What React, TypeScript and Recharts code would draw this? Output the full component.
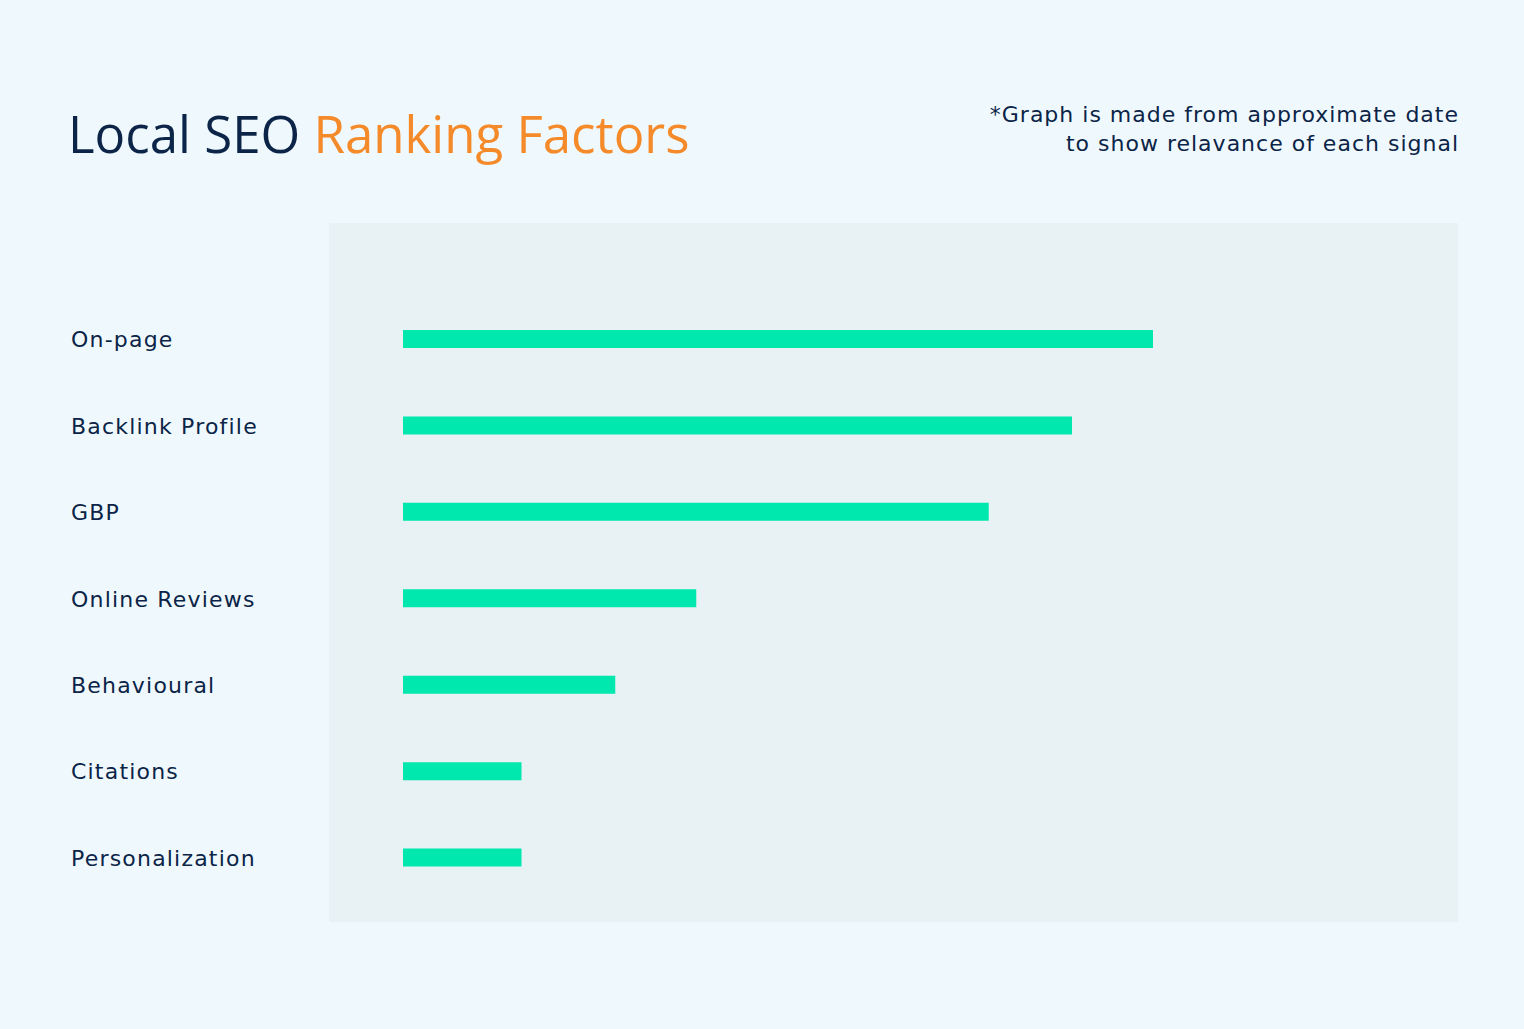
import React from "react";
import { BarChart, Bar, XAxis, YAxis } from "recharts";

// factors, top to bottom
const factors = [
  "On-page",
  "Backlink Profile",
  "GBP",
  "Online Reviews",
  "Behavioural",
  "Citations",
  "Personalization",
];

// relative weight of each signal (approximate, as in the source graphic)
const relevance = [100, 89.2, 78.1, 39.1, 28.3, 15.8, 15.8];

const data = factors.map((name, i) => ({ name, value: relevance[i] }));

const NAVY = "#0b2447";
const ORANGE = "#f58a2a";
const FONT = "'Open Sans', sans-serif";
const LABEL_FONT = "'DejaVu Sans', sans-serif";

const FactorTick = (props: any) => {
  const { y, payload } = props;
  return (
    <text
      x={71}
      y={y}
      dy={8}
      textAnchor="start"
      fill={NAVY}
      fontSize={22}
      fontFamily={LABEL_FONT}
      letterSpacing={1.2}
    >
      {payload.value}
    </text>
  );
};

export default function App() {
  return (
    <div
      style={{
        position: "absolute",
        left: 0,
        top: 0,
        width: 1524,
        height: 1029,
        background: "#eff9fd",
        fontFamily: FONT,
        overflow: "hidden",
      }}
    >
      <div
        style={{
          position: "absolute",
          left: 68,
          top: 98,
          fontSize: 51,
          color: NAVY,
          whiteSpace: "nowrap",
          lineHeight: "70px",
        }}
      >
        Local SEO <span style={{ color: ORANGE }}>Ranking Factors</span>
      </div>
      <div
        style={{
          position: "absolute",
          right: 65,
          top: 100,
          fontSize: 22,
          lineHeight: "29px",
          color: NAVY,
          textAlign: "right",
          whiteSpace: "nowrap",
          fontFamily: LABEL_FONT,
          letterSpacing: 1,
        }}
      >
        *Graph is made from approximate date
        <br />
        to show relavance of each signal
      </div>
      <div
        style={{
          position: "absolute",
          left: 329,
          top: 223,
          width: 1129,
          height: 699,
          background: "#e8f1f4",
        }}
      />
      <div style={{ position: "absolute", left: 0, top: 0 }}>
        <BarChart
          width={1524}
          height={1029}
          data={data}
          layout="vertical"
          margin={{ top: 296, right: 371, bottom: 128, left: 71 }}
        >
          <XAxis type="number" domain={[0, 100]} hide />
          <YAxis
            type="category"
            dataKey="name"
            width={332}
            axisLine={false}
            tickLine={false}
            tick={<FactorTick />}
            interval={0}
          />
          <Bar
            dataKey="value"
            fill="#00e8ad"
            barSize={18}
            isAnimationActive={false}
          />
        </BarChart>
      </div>
    </div>
  );
}
